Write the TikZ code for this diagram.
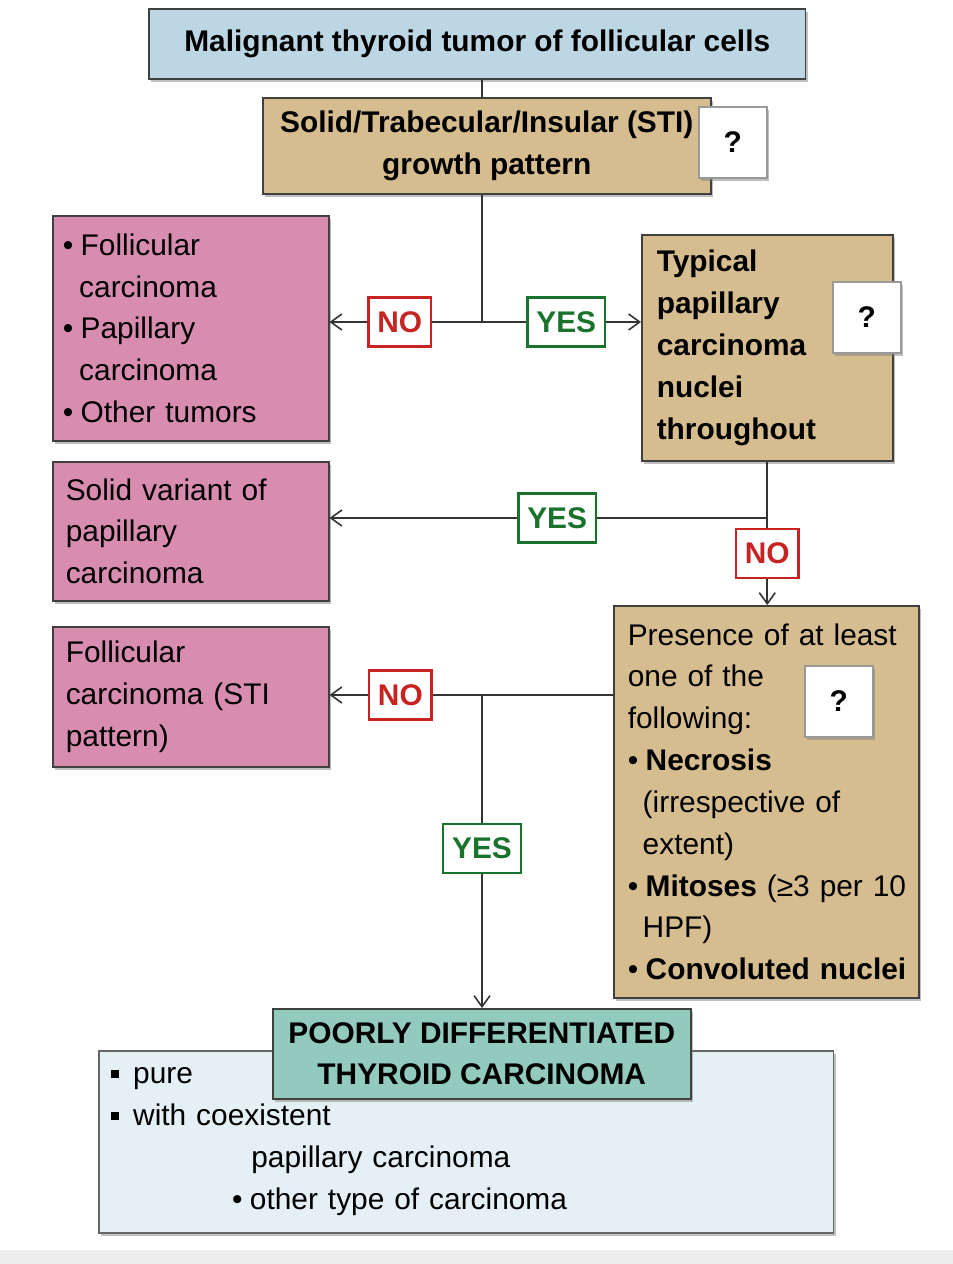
\documentclass[tikz,border=0pt]{standalone}
\usepackage{fontspec}
\setmainfont{Liberation Sans}
\usetikzlibrary{arrows.meta,positioning,calc,shadows}
\definecolor{skyblue}{RGB}{189,214,228}
\definecolor{tanbox}{RGB}{214,189,143}
\definecolor{pinkbox}{RGB}{216,141,176}
\definecolor{tealbox}{RGB}{146,203,190}
\definecolor{paleblue}{RGB}{229,240,246}
\definecolor{deepred}{RGB}{200,35,35}
\definecolor{leafgreen}{RGB}{25,115,45}
\newcommand{\bul}{\makebox[0.6em][l]{•}}
\newcommand{\sqbul}{\makebox[0.75em][l]{\rule[0.2em]{0.26em}{0.26em}}}

\begin{document}
\begin{tikzpicture}[x=0.02cm,y=-0.02cm,
  box/.style={draw=black!75,line width=0.9pt,anchor=north west,inner ysep=0pt,
    font=\fontsize{17}{23.8}\selectfont,
    drop shadow={shadow xshift=0.05cm,shadow yshift=-0.06cm,fill=black!50}},
  bold/.style={font=\fontsize{17}{23.8}\selectfont\bfseries},
  lbox/.style={box,align=left},
  qbox/.style={box,fill=white,draw=black!40,minimum width=1.36cm,minimum height=1.42cm,bold},
  yesno/.style={draw=#1,text=#1,fill=white,line width=1.3pt,minimum height=0.98cm,
    inner xsep=5pt,font=\fontsize{17}{20}\selectfont\bfseries},
  link/.style={draw=black!80,line width=0.9pt},
  arr/.style={link,-{Straight Barb[length=0.22cm,width=0.32cm]}}]
\useasboundingbox (0,0) rectangle (953,1264);
\fill[black!7] (0,1250) rectangle (953,1264);

\node[box,bold,fill=skyblue,minimum width=13.14cm,minimum height=1.4cm] (top) at (148,8)
  {Malignant thyroid tumor of follicular cells};
\node[box,bold,fill=tanbox,align=center,minimum width=8.96cm,minimum height=1.92cm] (sti) at (262,97)
  {Solid/Trabecular/Insular (STI)\\growth pattern};
\node[lbox,fill=pinkbox,minimum width=5.52cm,minimum height=4.5cm,text width=5.12cm,inner xsep=0.2cm] (other) at (52,215)
  {\bul Follicular\\\hspace*{0.55em}carcinoma\\\bul Papillary\\\hspace*{0.55em}carcinoma\\\bul\mbox{Other tumors}};
\node[lbox,bold,fill=tanbox,minimum width=5.02cm,minimum height=4.52cm,text width=4.42cm,inner xsep=0.3cm] (typical) at (641,234)
  {Typical\\papillary\\carcinoma\\nuclei\\throughout};
\node[lbox,fill=pinkbox,minimum width=5.52cm,minimum height=2.78cm,text width=5cm,inner xsep=0.26cm] (solidvar) at (52,461)
  {\mbox{Solid variant of}\\papillary\\carcinoma};
\node[lbox,fill=pinkbox,minimum width=5.52cm,minimum height=2.8cm,text width=5cm,inner xsep=0.26cm] (follsti) at (52,626)
  {Follicular\\\mbox{carcinoma (STI}\\pattern)};
\node[lbox,fill=tanbox,minimum width=6.1cm,minimum height=7.84cm,text width=5.54cm,inner xsep=0.28cm] (presence) at (613,605)
  {\mbox{Presence of at least}\\one of the\\following:\\\bul\textbf{Necrosis}\\\hspace*{0.5em}\mbox{(irrespective of}\\\hspace*{0.5em}extent)\\
   \bul\mbox{\textbf{Mitoses} (≥3 per 10}\\\hspace*{0.5em}HPF)\\\bul\mbox{\textbf{Convoluted nuclei}}};
\node[lbox,fill=paleblue,draw=black!60,minimum width=14.7cm,minimum height=3.64cm,text width=14.22cm,inner xsep=0.24cm] (forms) at (98,1050)
  {\sqbul pure\\\sqbul with coexistent\\\hspace*{80pt}papillary carcinoma\\\hspace*{69pt}\bul other type of carcinoma};
\node[box,bold,fill=tealbox,align=center,minimum width=8.36cm,minimum height=1.8cm] (pdtc) at (272,1008)
  {POORLY DIFFERENTIATED\\THYROID CARCINOMA};

\foreach \q/\px/\py in {q1/698/106,q2/832/281,q3/804/665}
  \node[qbox] (\q) at (\px,\py) {?};

% decision lines
\coordinate (split1) at (482,322);
\coordinate (split2) at (766,518);
\coordinate (split3) at (482,695);
\draw[link] (top.south -| split1) -- (sti.north -| split1);
\draw[link] (sti.south -| split1) -- (split1);
\draw[arr] (split1) -- node[yesno=deepred,pos=0.54] (no1) {NO} (other.east |- split1);
\draw[arr] (split1) -- node[yesno=leafgreen,pos=0.53] (yes1) {YES} (typical.west |- split1);
\draw[link] (typical.south) -- (typical.south |- split2);
\draw[arr] (typical.south |- split2) -- node[yesno=leafgreen,pos=0.48] (yes2) {YES} (solidvar.east |- split2);
\draw[arr] (typical.south |- split2) -- node[yesno=deepred,pos=0.41] (no2) {NO} (typical.south |- presence.north);
\draw[arr] (presence.west |- split3) -- node[yesno=deepred,pos=0.75] (no3) {NO} (follsti.east |- split3);
\draw[arr] (split3) -- node[yesno=leafgreen,pos=0.49] (yes3) {YES} (pdtc.north -| split3);
\end{tikzpicture}
\end{document}
